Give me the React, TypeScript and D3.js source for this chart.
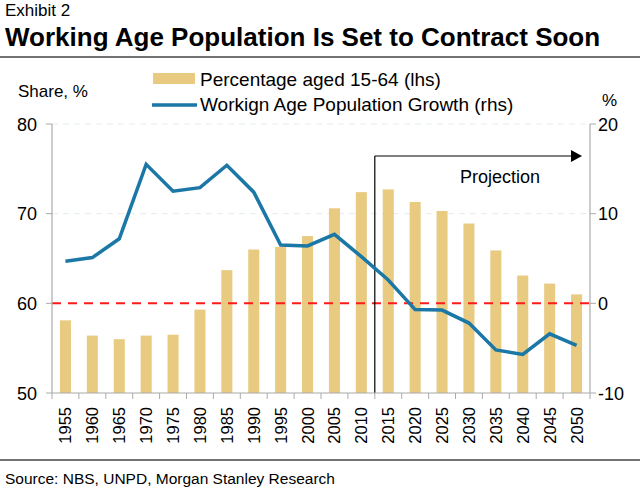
import * as d3 from "d3";

const years = ["1955","1960","1965","1970","1975","1980","1985","1990","1995","2000","2005","2010","2015","2020","2025","2030","2035","2040","2045","2050"];
const shareValues = [58.1,56.4,56.0,56.4,56.5,59.3,63.7,66.0,66.3,67.5,70.6,72.4,72.7,71.3,70.3,68.9,65.9,63.1,62.2,61.0];
const growthValues = [4.7,5.1,7.2,15.5,12.5,12.9,15.4,12.4,6.5,6.4,7.7,5.2,2.6,-0.7,-0.75,-2.2,-5.2,-5.7,-3.4,-4.7];
const leftTicks = [50,60,70,80];
const rightTicks = [-10,0,10,20];

const W = 640, H = 495;
const left = 52, right = 590, top = 124, bottom = 393;
const font = "Arial, 'Liberation Sans', Helvetica, sans-serif";
const barColor = "#e8ca80";
const lineColor = "#1b77a6";

export default function App() {
  const x = d3.scaleBand<string>().domain(years).range([left, right]);
  const yL = d3.scaleLinear().domain([50, 80]).range([bottom, top]);
  const yR = d3.scaleLinear().domain([-10, 20]).range([bottom, top]);
  const barW = x.bandwidth() * 0.41;
  const cx = (d: string) => (x(d) as number) + x.bandwidth() / 2;

  const line = d3.line<number>()
    .x((_, i) => cx(years[i]))
    .y((d) => yR(d));

  const projX = x("2015") as number;

  return (
    <div style={{ position: "absolute", left: 0, top: 0 }}>
      <svg width={W} height={H} style={{ display: "block", fontFamily: font }}>
        <rect width={W} height={H} fill="#fff" />
        <text x={5} y={16} fontSize={17}>Exhibit 2</text>
        <text x={5} y={46} fontSize={26} fontWeight="bold">Working Age Population Is Set to Contract Soon</text>
        <line x1={0} x2={W} y1={57} y2={57} stroke="#444" strokeWidth={1.5} />

        {/* legend */}
        <rect x={153} y={73} width={42} height={11} fill={barColor} />
        <text x={200} y={86} fontSize={19}>Percentage aged 15-64 (lhs)</text>
        <line x1={152} x2={197} y1={105} y2={105} stroke={lineColor} strokeWidth={3.5} />
        <text x={200} y={111} fontSize={19}>Workign Age Population Growth (rhs)</text>
        <text x={18} y={97} fontSize={17}>Share, %</text>
        <text x={602} y={106} fontSize={17}>%</text>

        {/* gridlines */}
        {[70, 80].map((t) => (
          <line key={t} x1={left} x2={right} y1={yL(t)} y2={yL(t)} stroke="#e3ecf0" strokeDasharray="6,5" />
        ))}

        {/* bars */}
        {years.map((yr, i) => (
          <rect key={yr} x={cx(yr) - barW / 2} y={yL(shareValues[i])} width={barW}
            height={bottom - yL(shareValues[i])} fill={barColor} />
        ))}

        {/* zero line */}
        <line x1={left} x2={right} y1={yR(0)} y2={yR(0)} stroke="#ff1a1a" strokeWidth={2} strokeDasharray="9,7" />

        {/* projection */}
        <line x1={projX} x2={projX} y1={156} y2={bottom} stroke="#000" strokeWidth={1.2} />
        <line x1={projX} x2={572} y1={156} y2={156} stroke="#000" strokeWidth={1.2} />
        <path d="M571,150 L582,156 L571,162 Z" fill="#000" />
        <text x={500} y={183} fontSize={18} textAnchor="middle">Projection</text>

        {/* growth line */}
        <path d={line(growthValues) || ""} fill="none" stroke={lineColor} strokeWidth={3.5} strokeLinejoin="miter" />

        {/* axes */}
        <line x1={left} x2={left} y1={top} y2={bottom} stroke="#aaa" strokeWidth={1.2} />
        <line x1={right} x2={right} y1={top} y2={bottom} stroke="#aaa" strokeWidth={1.2} />
        <line x1={left} x2={right} y1={bottom} y2={bottom} stroke="#aaa" strokeWidth={1.2} />
        {leftTicks.map((t) => (
          <g key={t}>
            <line x1={left - 6} x2={left} y1={yL(t)} y2={yL(t)} stroke="#aaa" />
            <text x={37} y={yL(t) + 6.5} fontSize={18} textAnchor="end">{t}</text>
          </g>
        ))}
        {rightTicks.map((t) => (
          <g key={t}>
            <line x1={right} x2={right + 6} y1={yR(t)} y2={yR(t)} stroke="#aaa" />
            <text x={598} y={yR(t) + 6.5} fontSize={18}>{t}</text>
          </g>
        ))}
        {years.map((yr) => (
          <line key={"t" + yr} x1={x(yr) as number} x2={x(yr) as number} y1={bottom} y2={bottom + 6} stroke="#aaa" />
        ))}
        <line x1={right} x2={right} y1={bottom} y2={bottom + 6} stroke="#aaa" />
        {years.map((yr) => (
          <text key={"l" + yr} transform={`translate(${cx(yr) + 6},${bottom + 14}) rotate(-90)`}
            fontSize={16.5} textAnchor="end">{yr}</text>
        ))}

        <line x1={0} x2={W} y1={460} y2={460} stroke="#444" strokeWidth={1.5} />
        <text x={5} y={484} fontSize={15.5}>Source: NBS, UNPD, Morgan Stanley Research</text>
      </svg>
    </div>
  );
}
